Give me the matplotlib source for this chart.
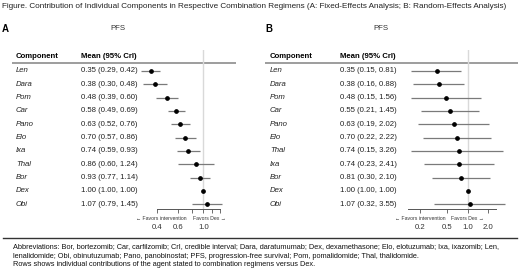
import numpy as np
import matplotlib
matplotlib.use("Agg")
import matplotlib.pyplot as plt

plt.rcParams['font.family'] = ['Liberation Sans', 'DejaVu Sans']

# ---------------- data ----------------
title = ("Figure. Contribution of Individual Components in Respective Combination "
         "Regimens (A: Fixed-Effects Analysis; B: Random-Effects Analysis)")

a_components = ["Len", "Dara", "Pom", "Car", "Pano", "Elo", "Ixa", "Thal", "Bor", "Dex", "Obi"]
a_mean = [0.35, 0.38, 0.48, 0.58, 0.63, 0.70, 0.74, 0.86, 0.93, 1.00, 1.07]
a_low = [0.29, 0.30, 0.39, 0.49, 0.52, 0.57, 0.59, 0.60, 0.77, 1.00, 0.79]
a_high = [0.42, 0.48, 0.60, 0.69, 0.76, 0.86, 0.93, 1.24, 1.14, 1.00, 1.45]
a_ticks = [0.4, 0.6, 0.8, 1.0, 1.2, 1.4]
a_ticklabels = ["0.4", "0.6", "", "1.0", "", ""]
a_bounds = [0.4, 1.4]

b_components = ["Len", "Dara", "Pom", "Car", "Pano", "Elo", "Thal", "Ixa", "Bor", "Dex", "Obi"]
b_mean = [0.35, 0.38, 0.48, 0.55, 0.63, 0.70, 0.74, 0.74, 0.81, 1.00, 1.07]
b_low = [0.15, 0.16, 0.15, 0.21, 0.19, 0.22, 0.15, 0.23, 0.30, 1.00, 0.32]
b_high = [0.81, 0.88, 1.56, 1.45, 2.02, 2.22, 3.26, 2.41, 2.10, 1.00, 3.55]
b_ticks = [0.2, 0.5, 1.0, 2.0]
b_ticklabels = ["0.2", "0.5", "1.0", "2.0"]
b_bounds = [0.133, 2.6]

footnote = [
    "Abbreviations: Bor, bortezomib; Car, carfilzomib; CrI, credible interval; Dara, daratumumab; "
    "Dex, dexamethasone; Elo, elotuzumab; Ixa, ixazomib; Len,",
    "lenalidomide; Obi, obinutuzumab; Pano, panobinostat; PFS, progression-free survival; "
    "Pom, pomalidomide; Thal, thalidomide.",
    "Rows shows individual contributions of the agent stated to combination regimens versus Dex.",
]

# ---------------- layout ----------------
W, H = 520, 271
fig = plt.figure(figsize=(W / 100, H / 100), dpi=100)
bg = fig.add_axes([0, 0, 1, 1])
bg.set_xlim(0, W)
bg.set_ylim(H, 0)
bg.axis("off")

row0, rowstep = 71.0, 13.33
axis_y = 209.0
top_y = 50.0
fav_fs = 3.7


def fit_text(t, target_px):
    fig.canvas.draw()
    r = fig.canvas.get_renderer()
    for _ in range(3):
        w = t.get_window_extent(renderer=r).width
        t.set_fontsize(t.get_fontsize() * target_px / w)


ttl = bg.text(2, 6, title, fontsize=6.0, color="#222222", va="center", ha="left")
fit_text(ttl, 505)


def panel(letter, lx, comps, mean, low, high, ticks, ticklabels, bounds,
          comp_x, mean_x, line_x0, line_x1, c, k, ax_l, ax_r, pfs_x,
          fav_l1, fav_r0):
    bg.text(lx, 29, letter, fontsize=7, fontweight="bold", va="center", ha="left")
    bg.text(pfs_x, 29, "PFS", fontsize=5.6, color="#333333", va="center", ha="center")
    bg.text(comp_x, 56, "Component", fontsize=5.6, fontweight="bold", va="center", ha="left")
    bg.text(mean_x, 56, "Mean (95% CrI)", fontsize=5.6, fontweight="bold", va="center", ha="left")
    bg.plot([line_x0, line_x1], [63, 63], color="#8c8c8c", lw=1.2, solid_capstyle="butt")
    for i, (nm, m, lo, hi) in enumerate(zip(comps, mean, low, high)):
        y = row0 + i * rowstep
        bg.text(comp_x, y, nm, fontsize=5.6, fontstyle="italic", color="#222222",
                va="center", ha="left")
        bg.text(mean_x, y, f"{m:.2f} ({lo:.2f}, {hi:.2f})", fontsize=5.6,
                color="#222222", va="center", ha="left")

    ax = fig.add_axes([ax_l / W, 1 - axis_y / H, (ax_r - ax_l) / W, (axis_y - top_y) / H])
    ax.set_xscale("log")
    ax.set_xlim(np.exp((ax_l - c) / k), np.exp((ax_r - c) / k))
    ybot = (axis_y - row0) / rowstep
    ytop = (top_y - row0) / rowstep
    ax.set_ylim(ybot, ytop)
    ax.patch.set_alpha(0)
    for s in ["top", "left", "right"]:
        ax.spines[s].set_visible(False)
    ax.spines["bottom"].set_bounds(bounds[0], bounds[1])
    ax.spines["bottom"].set_color("#555555")
    ax.spines["bottom"].set_linewidth(0.7)
    ax.set_yticks([])
    ax.axvline(1.0, color="#d9d9d9", lw=1.0, zorder=0)
    ys = np.arange(len(comps))
    ax.hlines(ys, low, high, color="#7a7a7a", lw=0.9, zorder=2)
    ax.plot(mean, ys, "o", color="black", ms=2.4, zorder=3)
    ax.xaxis.set_major_locator(matplotlib.ticker.FixedLocator(ticks))
    ax.xaxis.set_minor_locator(matplotlib.ticker.NullLocator())
    ax.set_xticklabels(ticklabels)
    ax.tick_params(axis="x", length=3, width=0.6, color="#555555", labelsize=5.6,
                   labelcolor="#333333", pad=7.5)
    fy = axis_y + 9
    fkw = dict(fontsize=fav_fs, color="#333333", va="center")
    bg.text(fav_l1, fy, "\u2190 Favors intervention", ha="right", **fkw)
    bg.text(fav_r0, fy, "Favors Dex \u2192", ha="left", **fkw)
    return ax


panel("A", 2, a_components, a_mean, a_low, a_high, a_ticks, a_ticklabels, a_bounds,
      comp_x=16, mean_x=81, line_x0=12, line_x1=236, c=203.3, k=50.0,
      ax_l=130, ax_r=245, pfs_x=118,
      fav_l1=187, fav_r0=193)

panel("B", 265, b_components, b_mean, b_low, b_high, b_ticks, b_ticklabels, b_bounds,
      comp_x=270, mean_x=340, line_x0=265, line_x1=518, c=467.7, k=29.7,
      ax_l=400, ax_r=519, pfs_x=381,
      fav_l1=446, fav_r0=451)

# footnote
bg.plot([3, 517], [238, 238], color="#333333", lw=1.0)
fts = []
for j, line in enumerate(footnote):
    fts.append(bg.text(13, 247 + j * 9, line, fontsize=5.27, color="#111111",
                       va="center", ha="left"))
fit_text(fts[0], 486)
for t in fts[1:]:
    t.set_fontsize(fts[0].get_fontsize())

fig.savefig("out.png", dpi=100)
